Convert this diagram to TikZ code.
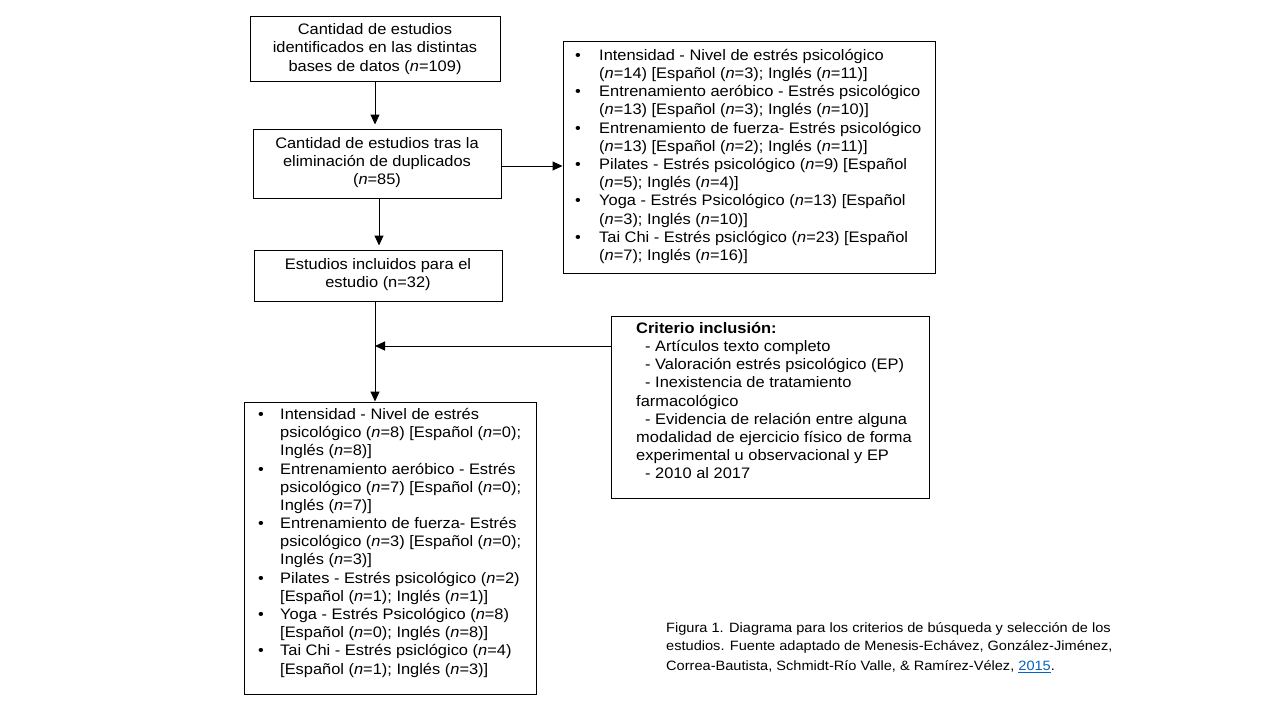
\documentclass[tikz,border=0pt]{standalone}
\usepackage{fontspec}
\setmainfont[FakeStretch=1.08]{Liberation Sans}
\usetikzlibrary{arrows.meta}
\definecolor{linkblue}{HTML}{0563C1}
\newcommand{\nn}{\textit{n}}
\newcommand{\bul}{\makebox[24pt][l]{\textbullet}}
\newcommand{\ind}{\hspace*{24pt}}
\newcommand{\bulb}{\makebox[22pt][l]{\textbullet}}
\newcommand{\indb}{\hspace*{22pt}}
\begin{document}
\begin{tikzpicture}[x=1pt,y=-1pt,
  box/.style={draw=black,line width=1pt,inner sep=0pt,rectangle},
  txt/.style={inner sep=0pt,font=\fontsize{15.2}{18.2}\selectfont},
  arr/.style={line width=1pt,-{Triangle[length=10pt,width=9pt]}}]
\useasboundingbox[fill=white] (0,0) rectangle (1280,720);
% boxes
\node[box,minimum width=250pt,minimum height=65pt] (b1) at (375,48.5) {};
\node[box,minimum width=248pt,minimum height=69pt] (b2) at (377,163.5) {};
\node[box,minimum width=248pt,minimum height=51pt] (b3) at (378,275.5) {};
\node[box,minimum width=372pt,minimum height=232pt] (rb) at (749,157) {};
\node[box,minimum width=318pt,minimum height=182pt] (cb) at (770,407) {};
\node[box,minimum width=292pt,minimum height=292pt] (b4) at (390,548) {};
% texts
\node[txt,align=center] (t1) at (375,49) {Cantidad de estudios\\identificados en las distintas\\bases de datos (\nn=109)};
\node[txt,align=center] (t2) at (377,162.5) {Cantidad de estudios tras la\\eliminación de duplicados\\(\nn=85)};
\node[txt,align=center] (t3) at (378,274.5) {Estudios incluidos para el\\estudio (n=32)};
\node[txt,align=left,anchor=north west] (trb) at (575,49) {%
\bul Intensidad - Nivel de estrés psicológico\\
\ind(\nn=14) [Español (\nn=3); Inglés (\nn=11)]\\
\bul Entrenamiento aeróbico - Estrés psicológico\\
\ind(\nn=13) [Español (\nn=3); Inglés (\nn=10)]\\
\bul Entrenamiento de fuerza- Estrés psicológico\\
\ind(\nn=13) [Español (\nn=2); Inglés (\nn=11)]\\
\bul Pilates - Estrés psicológico (\nn=9) [Español\\
\ind(\nn=5); Inglés (\nn=4)]\\
\bul Yoga - Estrés Psicológico (\nn=13) [Español\\
\ind(\nn=3); Inglés (\nn=10)]\\
\bul Tai Chi - Estrés psiclógico (\nn=23) [Español\\
\ind(\nn=7); Inglés (\nn=16)]};
\node[txt,align=left,anchor=north west] (tcb) at (636,322) {%
\textbf{Criterio inclusión:}\\
\hspace*{9pt}- Artículos texto completo\\
\hspace*{9pt}- Valoración estrés psicológico (EP)\\
\hspace*{9pt}- Inexistencia de tratamiento\\
farmacológico\\
\hspace*{9pt}- Evidencia de relación entre alguna\\
modalidad de ejercicio físico de forma\\
experimental u observacional y EP\\
\hspace*{9pt}- 2010 al 2017};
\node[txt,align=left,anchor=north west] (tb4) at (258,408) {%
\bulb Intensidad - Nivel de estrés\\
\indb psicológico (\nn=8) [Español (\nn=0);\\
\indb Inglés (\nn=8)]\\
\bulb Entrenamiento aeróbico - Estrés\\
\indb psicológico (\nn=7) [Español (\nn=0);\\
\indb Inglés (\nn=7)]\\
\bulb Entrenamiento de fuerza- Estrés\\
\indb psicológico (\nn=3) [Español (\nn=0);\\
\indb Inglés (\nn=3)]\\
\bulb Pilates - Estrés psicológico (\nn=2)\\
\indb [Español (\nn=1); Inglés (\nn=1)]\\
\bulb Yoga - Estrés Psicológico (\nn=8)\\
\indb [Español (\nn=0); Inglés (\nn=8)]\\
\bulb Tai Chi - Estrés psiclógico (\nn=4)\\
\indb [Español (\nn=1); Inglés (\nn=3)]};
\node[inner sep=0pt,align=left,anchor=north west,font=\fontsize{13.5}{18}\selectfont] (cap) at (666,622) {%
Figura 1. Diagrama para los criterios de búsqueda y selección de los\\
estudios. Fuente adaptado de Menesis-Echávez, González-Jiménez,\\[2.5pt]
Correa-Bautista, Schmidt-Río Valle, \& Ramírez-Vélez, \textcolor{linkblue}{\underline{2015}}.};
% connectors
\draw[arr,shorten >=4pt] (b1.south) -- (b1.south |- b2.north);
\draw[arr,shorten >=4pt] ([xshift=2pt]b2.south) -- ([xshift=2pt]b2.south |- b3.north);
\draw[arr] (b2.east |- 0,166) -- (rb.west |- 0,166);
\coordinate (ts) at ([xshift=-3pt]b3.south);
\coordinate (j) at (375,346);
\draw[arr] (ts) -- (ts |- b4.north);
\coordinate (cin) at (cb.west |- j);
\draw[arr] (cin) -- (j);
\end{tikzpicture}
\end{document}
